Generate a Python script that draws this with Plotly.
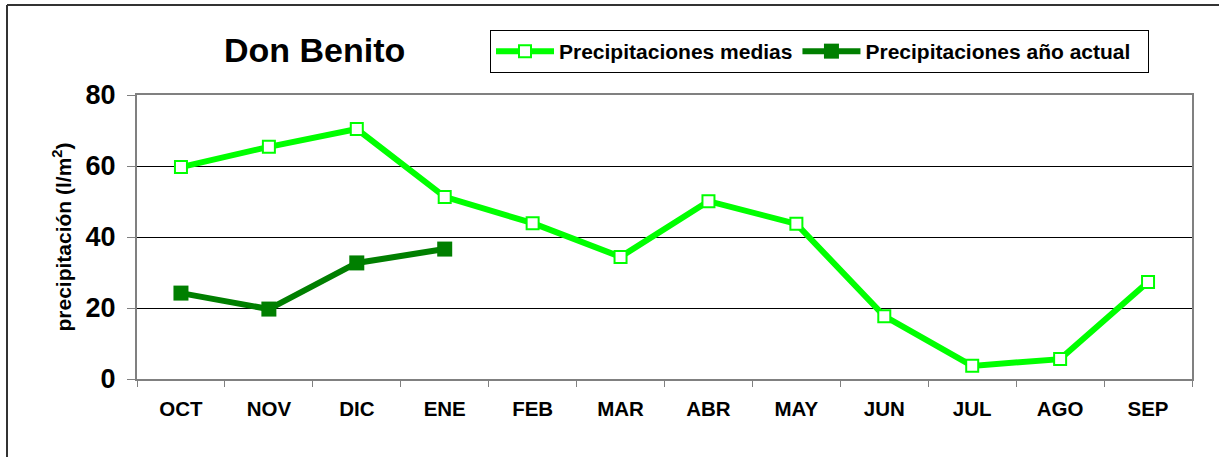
import plotly.graph_objects as go

months = ["OCT", "NOV", "DIC", "ENE", "FEB", "MAR", "ABR", "MAY", "JUN", "JUL", "AGO", "SEP"]
medias = [59.7, 65.4, 70.4, 51.3, 43.9, 34.4, 50.1, 43.7, 17.7, 3.7, 5.6, 27.3]
actual_months = ["OCT", "NOV", "DIC", "ENE"]
actual = [24.2, 19.7, 32.7, 36.6]
y_ticks = [0, 20, 40, 60, 80]

FONT = "Liberation Sans"
W, H = 1219, 457
L, R, T, B = 137, 27, 95, 78
PW, PH = W - L - R, H - T - B

fig = go.Figure()
fig.add_trace(go.Scatter(
    x=months, y=medias, name="<b>Precipitaciones medias</b>", mode="lines+markers",
    line=dict(color="#00FF00", width=6),
    marker=dict(symbol="square", size=12, color="white", line=dict(color="#00FF00", width=2)),
))
fig.add_trace(go.Scatter(
    x=actual_months, y=actual,
    name="<b>Precipitaciones año actual</b>" + "\u00a0" * 2,
    mode="lines+markers",
    line=dict(color="#007F00", width=6),
    marker=dict(symbol="square", size=15, color="#007F00"),
))

fig.update_layout(
    width=W, height=H,
    margin=dict(l=L, r=R, t=T, b=B),
    paper_bgcolor="white", plot_bgcolor="white",
    font=dict(family=FONT, color="black"),
    showlegend=True,
    legend=dict(
        orientation="h", x=(490 - L) / PW, xanchor="left",
        y=(H - B - 30) / PH, yanchor="top",
        bordercolor="black", borderwidth=1, bgcolor="white",
        font=dict(size=21, family=FONT), itemwidth=58,
        tracegroupgap=0,
    ),
    annotations=[dict(
        text="<b>Don Benito</b>", xref="paper", yref="paper",
        x=(314 - L) / PW, y=(H - B - 50) / PH,
        xanchor="center", yanchor="middle", showarrow=False,
        font=dict(size=34, family=FONT),
    )],
    shapes=[
        dict(type="line", xref="paper", yref="paper",
             x0=(7 - L) / PW, x1=1.1, y0=(H - B - 5) / PH, y1=(H - B - 5) / PH,
             line=dict(color="#333333", width=2)),
        dict(type="line", xref="paper", yref="paper",
             x0=(7 - L) / PW, x1=(7 - L) / PW, y0=-0.5, y1=(H - B - 5) / PH,
             line=dict(color="#333333", width=2)),
    ],
)

fig.update_xaxes(
    type="category", categoryorder="array", categoryarray=months,
    range=[-0.5, 11.5], showgrid=False, zeroline=False,
    showline=True, linecolor="#808080", linewidth=2, mirror=True,
    ticks="outside", ticklen=6, tickcolor="#808080", tickwidth=1,
    tickson="boundaries",
    tickfont=dict(size=20.5, family=FONT), ticklabelstandoff=10,
    tickprefix="<b>", ticksuffix="</b>",
)
fig.update_yaxes(
    range=[0, 80], tickvals=y_ticks, ticktext=[f"<b>{v}</b>" for v in y_ticks],
    showgrid=True, gridcolor="black", gridwidth=1, zeroline=False,
    showline=True, linecolor="#808080", linewidth=2, mirror=True,
    ticks="outside", ticklen=8, tickcolor="#808080", tickwidth=1,
    tickfont=dict(size=27, family=FONT), ticklabelstandoff=6,
    title=dict(text="<b>precipitación (l/m<sup>2</sup>)</b>", font=dict(size=21, family=FONT), standoff=8),
)

fig.write_html("out.html", config={"displayModeBar": False},
               post_script="document.body.style.margin='0';")
